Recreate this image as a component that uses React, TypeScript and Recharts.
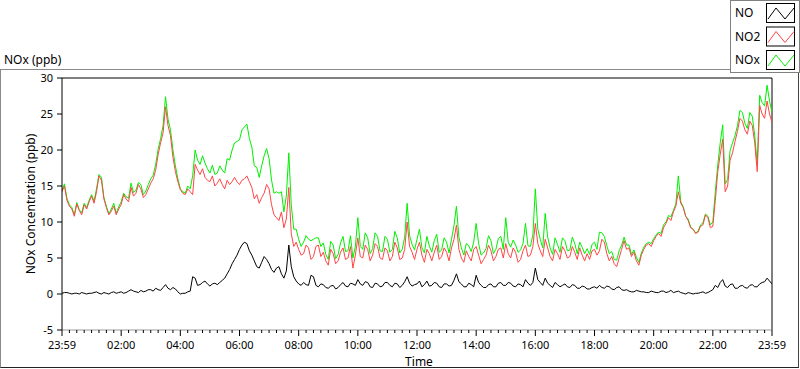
import React from "react";
import { LineChart, Line, XAxis, YAxis, ReferenceLine } from "recharts";

const FONT = "'Noto Sans', 'DejaVu Sans', sans-serif";

const seriesNames = ["NO", "NO2", "NOx"];
const seriesColors = ["#000000", "#ff4545", "#00f000"];

const timeLabels = [
  "23:59", "02:00", "04:00", "06:00", "08:00", "10:00", "12:00",
  "14:00", "16:00", "18:00", "20:00", "22:00", "23:59",
];
const yTicks = [-5, 0, 5, 10, 15, 20, 25, 30];

// 5 minute samples, 23:59 -> 23:59, one row per hour
const no = [
  0.1, 0.2, 0.2, 0.1, 0.0, 0.1, 0.1, 0.0, 0.2, 0.1, 0.0, 0.1,
  0.1, 0.2, 0.3, 0.1, 0.0, 0.2, 0.1, 0.0, 0.2, 0.3, 0.1, 0.2,
  0.3, 0.1, 0.2, 0.4, 0.6, 0.4, 0.3, 0.2, 0.5, 0.3, 0.4, 0.6,
  0.6, 0.4, 0.8, 0.6, 0.5, 0.9, 1.3, 0.8, 0.6, 0.9, 0.7, 0.3,
  0.0, 0.1, 0.1, 0.3, 0.4, 2.4, 2.2, 1.2, 1.3, 1.6, 1.8, 1.4,
  1.1, 1.4, 1.5, 1.3, 1.6, 1.9, 2.2, 2.8, 3.4, 4.2, 4.8, 5.4,
  6.2, 6.8, 7.2, 7.0, 6.0, 5.4, 4.6, 3.8, 3.6, 4.4, 5.2, 4.8,
  4.2, 3.4, 3.0, 3.6, 3.8, 2.8, 2.2, 3.2, 6.8, 3.8, 2.4, 1.8,
  1.4, 1.2, 1.6, 1.3, 1.2, 2.6, 2.4, 1.2, 1.0, 1.4, 1.3, 0.9,
  0.8, 1.1, 1.2, 0.7, 0.9, 1.3, 1.6, 1.1, 1.0, 1.5, 1.4, 1.2,
  2.0, 1.4, 1.2, 1.7, 1.6, 1.0, 0.9, 1.5, 1.4, 1.0, 1.1, 1.6,
  1.6, 1.2, 1.0, 1.5, 1.4, 0.9, 1.2, 1.7, 2.4, 1.5, 1.1, 1.3,
  1.4, 1.8, 1.0, 1.3, 1.8, 1.1, 1.2, 1.6, 1.5, 1.0, 0.9, 1.4,
  1.4, 1.1, 1.2, 1.9, 2.8, 1.7, 1.4, 1.0, 1.0, 1.5, 1.3, 1.0,
  2.6, 1.6, 1.2, 0.9, 0.9, 1.3, 1.4, 1.0, 1.0, 1.5, 1.6, 1.2,
  1.2, 1.6, 1.5, 1.1, 1.0, 1.4, 1.3, 1.0, 2.0, 1.5, 1.2, 1.6,
  3.6, 2.0, 1.6, 1.2, 2.2, 1.5, 1.2, 0.9, 1.6, 1.3, 1.0, 1.2,
  1.4, 1.0, 0.9, 1.3, 1.2, 0.8, 0.8, 1.1, 1.0, 0.7, 0.7, 0.9,
  1.0, 0.8, 1.2, 0.9, 0.8, 1.1, 1.0, 0.7, 0.6, 0.9, 1.0, 0.6,
  0.5, 0.6, 0.4, 0.3, 0.3, 0.5, 0.4, 0.3, 0.3, 0.2, 0.2, 0.4,
  0.3, 0.2, 0.2, 0.4, 0.4, 0.2, 0.3, 0.5, 0.2, 0.3, 0.4, 0.2,
  0.1, 0.0, 0.2, 0.1, 0.0, 0.1, 0.1, 0.2, 0.3, 0.1, 0.2, 0.4,
  0.6, 1.2, 0.9, 1.6, 2.0, 1.1, 0.9, 1.3, 1.4, 0.8, 0.8, 1.1,
  1.2, 0.9, 0.8, 1.2, 1.3, 1.0, 1.0, 1.4, 1.6, 1.7, 2.2, 1.8,
  1.4,
];

const no2 = [
  14.2, 15.0, 13.0, 12.2, 11.8, 10.8, 12.5, 11.6, 11.0, 12.4, 11.8, 12.8,
  13.6, 12.6, 14.2, 16.4, 15.8, 13.2, 12.0, 11.0, 11.5, 12.2, 11.0, 11.8,
  12.4, 13.8, 13.2, 12.8, 14.8, 13.6, 14.0, 15.2, 14.6, 13.4, 13.8, 14.6,
  15.4, 16.0, 17.2, 19.4, 21.0, 22.4, 26.0, 23.4, 22.0, 19.0, 17.0, 15.6,
  14.5, 14.0, 13.8, 14.6, 14.2, 13.8, 18.0, 17.2, 16.6, 17.4, 16.2, 15.8,
  15.6, 16.4, 15.0, 15.4, 16.0, 15.2, 14.6, 15.8, 15.2, 15.6, 16.2, 15.6,
  15.2, 15.8, 16.0, 16.4, 15.6, 14.8, 13.2, 13.8, 12.6, 13.4, 14.0, 15.2,
  14.6, 12.4, 11.0, 10.6, 10.2, 11.4, 9.2, 10.4, 14.8, 8.4, 6.6, 7.2,
  6.2, 5.4, 5.6, 6.8, 6.4, 4.8, 5.2, 6.6, 6.8, 5.2, 5.8, 4.6,
  4.0, 6.2, 5.6, 4.2, 4.6, 5.8, 6.4, 4.8, 5.0, 6.6, 3.6, 5.4,
  7.8, 5.2, 5.0, 6.8, 6.2, 4.6, 5.4, 7.0, 6.6, 5.0, 4.8, 6.4,
  6.0, 4.6, 5.2, 7.2, 6.4, 4.8, 5.0, 6.2, 10.0, 6.6, 5.8, 4.8,
  6.2, 7.2, 5.4, 4.4, 6.2, 5.6, 4.6, 5.8, 6.8, 4.8, 5.2, 6.4,
  5.8, 4.6, 6.4, 7.6, 9.6, 6.2, 5.0, 4.4, 6.0, 5.2, 4.6, 6.2,
  6.6, 5.4, 4.2, 4.8, 5.4, 6.8, 6.0, 4.6, 5.2, 6.2, 6.4, 5.0,
  7.0, 5.6, 5.0, 6.4, 5.8, 4.4, 4.8, 6.0, 6.8, 5.2, 5.4, 6.6,
  9.8, 7.0, 6.0, 5.2, 7.6, 6.4, 5.2, 4.6, 6.2, 5.6, 4.8, 6.6,
  6.0, 5.0, 5.2, 6.6, 5.8, 4.8, 6.4, 5.4, 4.6, 5.6, 4.8, 6.0,
  6.2, 5.4, 6.0, 7.6, 7.2, 5.6, 4.6, 5.2, 4.2, 3.8, 5.0, 6.2,
  7.4, 6.2, 6.4, 5.2, 5.8, 4.6, 4.0, 5.4, 6.2, 6.8, 7.0, 6.6,
  7.4, 8.0, 8.4, 8.0, 9.2, 9.8, 10.6, 10.2, 11.4, 12.2, 14.2, 12.6,
  12.0, 10.8, 10.2, 9.2, 9.0, 8.4, 8.6, 9.4, 9.6, 11.0, 10.6, 9.2,
  9.4, 13.0, 17.0, 19.4, 21.5, 14.2, 15.0, 18.6, 19.6, 21.2, 22.6, 24.4,
  24.0, 22.8, 22.2, 24.0, 23.4, 21.0, 17.0, 26.2, 25.0, 24.4, 26.8, 25.0,
  23.8,
];

const nox = [
  14.4, 15.3, 13.3, 12.4, 12.0, 11.0, 12.7, 11.7, 11.3, 12.6, 12.0, 13.0,
  13.8, 12.9, 14.6, 16.6, 16.2, 13.4, 12.2, 11.1, 11.8, 12.6, 11.2, 12.1,
  12.8, 14.0, 13.5, 13.3, 15.4, 14.1, 14.4, 15.5, 15.2, 13.8, 14.3, 15.2,
  16.0, 16.5, 18.0, 20.1, 21.6, 23.4, 27.4, 24.3, 22.8, 20.0, 17.8, 16.0,
  14.6, 14.2, 14.0, 15.0, 14.6, 16.4, 20.0, 18.6, 18.0, 19.2, 18.2, 17.4,
  16.8, 17.9, 16.6, 16.8, 17.8, 17.2, 16.8, 18.8, 18.6, 20.0, 21.0, 21.2,
  21.4, 22.8, 23.2, 23.6, 21.6, 20.4, 17.8, 17.6, 16.2, 17.8, 19.2, 20.2,
  18.8, 15.8, 14.0, 14.2, 14.0, 14.2, 11.4, 13.6, 19.6, 12.4, 9.0, 9.0,
  7.6, 6.6, 7.2, 8.1, 7.6, 7.4, 7.6, 7.8, 7.8, 6.6, 7.1, 5.5,
  4.8, 7.3, 6.8, 4.9, 5.5, 7.1, 8.0, 5.9, 6.0, 8.1, 5.0, 6.6,
  10.6, 6.6, 6.2, 8.5, 7.8, 5.6, 6.3, 8.5, 8.0, 6.0, 5.9, 8.0,
  7.6, 5.8, 6.2, 8.7, 7.8, 5.7, 6.2, 7.9, 12.6, 8.1, 6.9, 6.1,
  7.6, 9.0, 6.4, 5.7, 8.0, 6.7, 5.8, 7.4, 8.3, 5.8, 6.1, 7.8,
  7.2, 5.7, 7.6, 9.5, 12.2, 7.9, 6.4, 5.4, 7.0, 6.7, 5.9, 7.2,
  9.8, 7.0, 5.4, 5.7, 6.3, 8.1, 7.4, 5.6, 6.2, 7.7, 8.0, 6.2,
  10.6, 7.2, 6.5, 7.5, 6.8, 5.8, 6.1, 7.0, 9.8, 6.7, 6.6, 8.2,
  14.6, 9.0, 7.6, 6.4, 11.2, 7.9, 6.4, 5.5, 7.8, 6.9, 5.8, 7.8,
  7.4, 6.0, 6.1, 7.9, 7.0, 5.6, 7.2, 6.5, 5.6, 6.3, 5.5, 6.9,
  7.2, 6.2, 8.6, 8.5, 8.0, 6.7, 5.6, 5.9, 4.8, 4.7, 6.0, 6.8,
  7.9, 6.8, 6.8, 5.5, 6.1, 5.1, 4.4, 5.7, 6.5, 7.0, 7.2, 7.0,
  7.7, 8.2, 8.6, 8.4, 9.6, 10.0, 10.9, 10.7, 11.6, 12.5, 16.4, 12.8,
  12.1, 10.8, 10.4, 9.3, 9.0, 8.5, 8.7, 9.6, 9.9, 11.1, 10.8, 9.6,
  10.0, 14.2, 17.9, 21.0, 23.5, 15.3, 15.9, 19.9, 21.0, 22.0, 23.4, 25.5,
  25.2, 23.7, 23.0, 25.2, 24.7, 22.0, 18.0, 27.6, 26.6, 26.1, 29.0, 26.8,
  25.2,
];

const data = no.map((v, i) => ({ t: i / 12, no: v, no2: no2[i], nox: nox[i] }));

// major tick every 2 h, minor every 15 min
const xTicks: number[] = [];
for (let q = 0; q <= 96; q++) xTicks.push(q / 4);

function TimeTick(props: any) {
  const { x, y, payload } = props;
  const v = payload.value as number;
  const major = Math.abs(v / 2 - Math.round(v / 2)) < 1e-6;
  return (
    <g>
      <line x1={x} x2={x} y1={y} y2={y + (major ? 6 : 3)} stroke="#000" />
      {major && (
        <text x={x} y={y + 19} textAnchor="middle" fontSize={11} fontFamily={FONT} fill="#000">
          {timeLabels[Math.round(v / 2)]}
        </text>
      )}
    </g>
  );
}

function LegendBox() {
  return (
    <div
      style={{
        position: "absolute",
        left: 730,
        top: 0,
        width: 68,
        height: 71,
        border: "1px solid #808080",
        background: "#fff",
      }}
    >
      <svg width={68} height={71}>
        {seriesNames.map((name, i) => {
          const top = 2 + i * 23.5;
          return (
            <g key={name}>
              <text x={4} y={top + 14} fontSize={12} fontFamily={FONT} fill="#000">
                {name}
              </text>
              <rect x={35.5} y={top + 0.5} width={28} height={19} fill="#fff" stroke="#000" />
              <polyline
                points={`37,${top + 16} 45,${top + 5} 54,${top + 16} 63,${top + 5}`}
                fill="none"
                stroke={seriesColors[i]}
              />
            </g>
          );
        })}
      </svg>
    </div>
  );
}

export default function App() {
  return (
    <div style={{ position: "absolute", left: 0, top: 0, width: 800, height: 369, background: "#fff" }}>
      <div
        style={{
          position: "absolute",
          left: 0,
          top: 69,
          width: 797,
          height: 297,
          borderTop: "1px solid #8a8a8a",
          borderLeft: "1px solid #8a8a8a",
          borderRight: "1px solid #444",
          borderBottom: "1px solid #222",
        }}
      />
      <svg width={800} height={369} style={{ position: "absolute", left: 0, top: 0 }}>
        <text x={4} y={64} fontSize={12} fontFamily={FONT} fill="#000">
          NOx (ppb)
        </text>
        <text
          transform="translate(35,204) rotate(-90)"
          textAnchor="middle"
          fontSize={12}
          fontFamily={FONT}
          fill="#000"
        >
          NOx Concentration (ppb)
        </text>
        <text x={419} y={366} textAnchor="middle" fontSize={12} fontFamily={FONT} fill="#000">
          Time
        </text>
      </svg>
      <div style={{ position: "absolute", left: 0, top: 0 }}>
        <LineChart width={800} height={369} data={data} margin={{ top: 78, right: 28, bottom: 9, left: 0 }}>
          <XAxis
            dataKey="t"
            type="number"
            domain={[0, 24]}
            ticks={xTicks}
            interval={0}
            tick={<TimeTick />}
            tickLine={false}
            tickSize={0}
            tickMargin={0}
            height={30}
            axisLine={{ stroke: "#999" }}
            allowDataOverflow
          />
          <YAxis
            type="number"
            domain={[-5, 30]}
            ticks={yTicks}
            interval={0}
            width={62}
            tickSize={5}
            tickMargin={4}
            tick={{ fontSize: 11, fill: "#000", fontFamily: FONT }}
            axisLine={{ stroke: "#000" }}
            tickLine={{ stroke: "#000" }}
            allowDataOverflow
          />
          <ReferenceLine y={30} stroke="#000" />
          <ReferenceLine x={24} stroke="#000" />
          <Line dataKey="nox" name={seriesNames[2]} stroke={seriesColors[2]} strokeWidth={1} dot={false} type="linear" isAnimationActive={false} />
          <Line dataKey="no2" name={seriesNames[1]} stroke={seriesColors[1]} strokeWidth={1} dot={false} type="linear" isAnimationActive={false} />
          <Line dataKey="no" name={seriesNames[0]} stroke={seriesColors[0]} strokeWidth={1} dot={false} type="linear" isAnimationActive={false} />
        </LineChart>
      </div>
      <LegendBox />
    </div>
  );
}
